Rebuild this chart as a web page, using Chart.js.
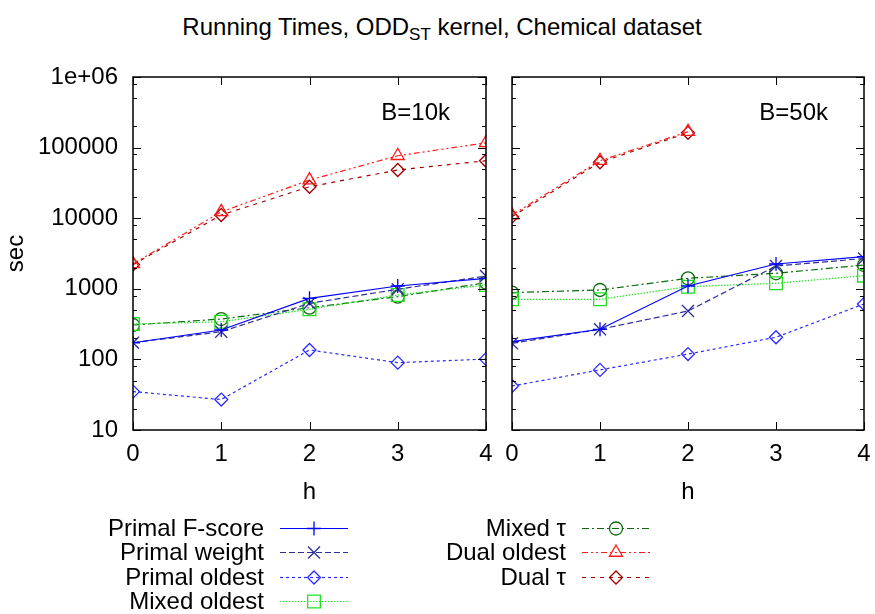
<!DOCTYPE html>
<html>
<head>
<meta charset="utf-8">
<script src="https://cdn.jsdelivr.net/npm/chart.js@4.4.0/dist/chart.umd.min.js"></script>
<style>
  body { margin: 0; background: #fff; font-family: "Liberation Sans", Arial, sans-serif; color: #000; }
  #wrap { position: relative; width: 875px; height: 614px; overflow: hidden; }
  #title { position: absolute; left: 0; top: 12px; width: 884px; text-align: center; font-size: 24px; line-height: 30px; }
  #title sub { font-size: 17px; vertical-align: -5px; line-height: 0; }
  #left { position: absolute; left: 0; top: 0; }
  #right { position: absolute; left: 500px; top: 0; }
  .leg-text { position: absolute; font-size: 24px; line-height: 26px; text-align: right; white-space: nowrap; }
  .leg-line { position: absolute; }
</style>
</head>
<body>
<div id="wrap">
  <div id="title">Running Times, ODD<sub>ST</sub> kernel, Chemical dataset</div>
  <canvas id="left" width="500" height="520"></canvas>
  <canvas id="right" width="375" height="520"></canvas>
  <div id="legend"></div>
</div>
<script>
// tree height h on the x axis
const hVals = [0, 1, 2, 3, 4];
const yTicks = [10, 100, 1000, 10000, 100000, 1000000];

// running times (sec), budget B=10k
const fscore10 = [172, 261, 733, 1096, 1409];
const weight10 = [172, 247, 623, 984, 1517];
const oldest10 = [35, 27, 136, 90, 101];
const mixOld10 = [317, 342, 512, 817, 1132];
const mixTau10 = [307, 373, 540, 773, 1222];
const dualOld10 = [2250, 12300, 34700, 76700, 117000];
const dualTau10 = [2200, 11100, 27900, 48200, 65200];

// running times (sec), budget B=50k (dual runs stop at h=2)
const fscore50 = [178, 267, 1096, 2245, 2850];
const weight50 = [169, 267, 485, 2100, 2690];
const oldest50 = [42, 71, 119, 206, 610];
const mixOld50 = [710, 710, 1072, 1197, 1535];
const mixTau50 = [883, 962, 1409, 1660, 2173];
const dualOld50 = [11100, 65200, 168000];
const dualTau50 = [10500, 62000, 162000];

const seriesNames = ['Primal F-score', 'Primal weight', 'Primal oldest', 'Mixed oldest',
                     'Mixed \u03c4', 'Dual oldest', 'Dual \u03c4'];

// line look per series, same order as seriesNames
const styles = [
  { color: '#0000ff', dash: [], point: 'cross', r: 7 },
  { color: '#2e2e9c', dash: [6, 3], point: 'crossRot', r: 8.5 },
  { color: '#2a2aff', dash: [3, 3], point: 'rectRot', r: 6.5 },
  { color: '#22e022', dash: [1.5, 1.5], point: 'rect', r: 9 },
  { color: '#0b6b0b', dash: [7, 3, 2, 3], point: 'circle', r: 6.5 },
  { color: '#ff1a1a', dash: [6, 3, 2, 3, 2, 3], point: 'triangle', r: 7.5 },
  { color: '#a00000', dash: [4, 5], point: 'rectRot', r: 6.5 }
];

Chart.defaults.font.family = '"Liberation Sans", Arial, sans-serif';
Chart.defaults.color = '#000';

function makeDatasets(lists) {
  return lists.map((vals, i) => ({
    label: seriesNames[i],
    data: vals.map((v, k) => ({ x: hVals[k], y: v })),
    borderColor: styles[i].color,
    borderWidth: 1.2,
    borderDash: styles[i].dash,
    pointStyle: styles[i].point,
    pointRadius: styles[i].r,
    pointBorderColor: styles[i].color,
    pointBackgroundColor: 'rgba(0,0,0,0)',
    pointBorderWidth: 1.3,
    fill: false,
    tension: 0
  }));
}

// box around the plot, inward tics on all four sides, and the panel tag
const frameTicks = {
  id: 'frameTicks',
  afterDraw(chart, args, opts) {
    const { ctx, chartArea: a, scales: { x, y } } = chart;
    ctx.save();
    ctx.strokeStyle = '#000';
    ctx.lineWidth = 1;
    ctx.beginPath();
    for (let d = 1; d <= 6; d++) {
      for (const m of [1, 2, 5, 8]) {
        const v = m * Math.pow(10, d);
        if (v > 1e6) continue;
        const py = Math.round(y.getPixelForValue(v)) + 0.5;
        const len = m === 1 ? 8 : 4;
        ctx.moveTo(a.left, py); ctx.lineTo(a.left + len, py);
        ctx.moveTo(a.right, py); ctx.lineTo(a.right - len, py);
      }
    }
    hVals.forEach(h => {
      const px = Math.round(x.getPixelForValue(h)) + 0.5;
      ctx.moveTo(px, a.bottom); ctx.lineTo(px, a.bottom - 8);
      ctx.moveTo(px, a.top); ctx.lineTo(px, a.top + 8);
    });
    ctx.stroke();
    ctx.lineWidth = 1.5;
    ctx.strokeRect(a.left, a.top, a.right - a.left, a.bottom - a.top);
    if (opts.label) {
      ctx.fillStyle = '#000';
      ctx.font = '24px "Liberation Sans", Arial, sans-serif';
      ctx.textAlign = 'right';
      ctx.textBaseline = 'middle';
      ctx.fillText(opts.label, a.right - 36, a.top + 36);
    }
    ctx.restore();
  }
};

function makeChart(id, lists, opts) {
  return new Chart(document.getElementById(id), {
    type: 'line',
    data: { datasets: makeDatasets(lists) },
    plugins: [frameTicks],
    options: {
      responsive: false,
      animation: false,
      devicePixelRatio: 1,
      layout: { padding: { top: 77, right: opts.padRight, bottom: 10, left: 0 } },
      plugins: {
        legend: { display: false },
        tooltip: { enabled: false },
        frameTicks: { label: opts.label }
      },
      scales: {
        x: {
          type: 'linear', min: 0, max: 4,
          grid: { display: false, drawTicks: false },
          border: { display: false },
          ticks: { stepSize: 1, padding: 10, font: { size: 24 } },
          title: { display: true, text: 'h', font: { size: 24 }, padding: { top: 0, bottom: 3 } },
          afterFit: s => { s.height = 80; s.paddingLeft = 0; s.paddingRight = 0; }
        },
        y: {
          type: 'logarithmic', min: 10, max: 1e6,
          grid: { display: false, drawTicks: false },
          border: { display: false },
          afterBuildTicks: s => { s.ticks = yTicks.map(v => ({ value: v })); },
          ticks: {
            display: opts.yLabels,
            padding: 15,
            font: { size: 24 },
            callback: v => (v === 1e6 ? '1e+06' : String(v))
          },
          title: { display: opts.yLabels, text: 'sec', font: { size: 24 }, padding: { top: 2, bottom: 0 } },
          afterFit: s => { s.width = opts.yWidth; s.paddingTop = 0; s.paddingBottom = 0; }
        }
      }
    }
  });
}

makeChart('left', [fscore10, weight10, oldest10, mixOld10, mixTau10, dualOld10, dualTau10],
  { label: 'B=10k', yLabels: true, yWidth: 133, padRight: 14 });
makeChart('right', [fscore50, weight50, oldest50, mixOld50, mixTau50, dualOld50, dualTau50],
  { label: 'B=50k', yLabels: false, yWidth: 12, padRight: 11 });

// legend below the panels: two columns, text then a line sample with its marker
const legendSlots = [
  { textRight: 264, lineLeft: 278, y: 528 },
  { textRight: 264, lineLeft: 278, y: 552 },
  { textRight: 264, lineLeft: 278, y: 577 },
  { textRight: 264, lineLeft: 278, y: 601 },
  { textRight: 566, lineLeft: 580, y: 528 },
  { textRight: 566, lineLeft: 580, y: 552 },
  { textRight: 566, lineLeft: 580, y: 577 }
];
const legend = document.getElementById('legend');
seriesNames.forEach((name, i) => {
  const slot = legendSlots[i];
  const st = styles[i];
  const t = document.createElement('div');
  t.className = 'leg-text';
  t.textContent = name;
  t.style.right = (875 - slot.textRight) + 'px';
  t.style.top = (slot.y - 13) + 'px';
  legend.appendChild(t);

  const c = document.createElement('canvas');
  c.className = 'leg-line';
  c.width = 72; c.height = 24;
  c.style.left = slot.lineLeft + 'px';
  c.style.top = (slot.y - 12) + 'px';
  legend.appendChild(c);
  const g = c.getContext('2d');
  g.strokeStyle = st.color;
  g.lineWidth = 1.2;
  g.setLineDash(st.dash);
  g.beginPath(); g.moveTo(2, 12.5); g.lineTo(70, 12.5); g.stroke();
  g.setLineDash([]);
  g.fillStyle = 'rgba(0,0,0,0)';
  g.lineWidth = 1.3;
  Chart.helpers.drawPoint(g, { pointStyle: st.point, radius: st.r, rotation: 0, borderWidth: 1.3 }, 36, 12.5);
});
</script>
</body>
</html>
